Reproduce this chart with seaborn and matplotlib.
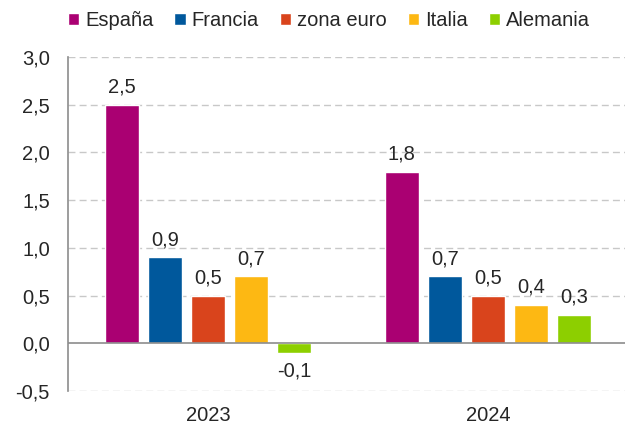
import matplotlib
matplotlib.use("Agg")
import matplotlib.pyplot as plt
import seaborn as sns
import pandas as pd

years = ["2023", "2024"]
countries = ["España", "Francia", "zona euro", "Italia", "Alemania"]
values_2023 = [2.5, 0.9, 0.5, 0.7, -0.1]
values_2024 = [1.8, 0.7, 0.5, 0.4, 0.3]
colors = ["#AA0072", "#00589C", "#D9441C", "#FDB813", "#8DCF00"]
yticks = [-0.5, 0.0, 0.5, 1.0, 1.5, 2.0, 2.5, 3.0]

rows = []
for c, v in zip(countries, values_2023):
    rows.append({"year": years[0], "country": c, "value": v})
for c, v in zip(countries, values_2024):
    rows.append({"year": years[1], "country": c, "value": v})
df = pd.DataFrame(rows)

sns.set_style("white")
plt.rcParams["font.family"] = ["Liberation Sans", "DejaVu Sans"]
text_color = "#262626"
fs = 14.5
lfs = 14.5

fig = plt.figure(figsize=(6.25, 4.26), dpi=100)
ax = fig.add_axes([68 / 625, 35 / 426, (628 - 68) / 625, 334 / 426])

sns.barplot(data=df, x="year", y="value", hue="country", hue_order=countries,
            palette=colors, width=0.77, gap=0.2, ax=ax, legend=True,
            saturation=1)

ax.set_ylim(-0.5, 3.0)
ax.set_xlim(-0.5, 1.5)
ax.set_yticks(yticks)
ax.set_yticklabels([f"{t:.1f}".replace(".", ",") for t in yticks],
                   fontsize=fs, color=text_color)
ax.tick_params(axis="x", labelsize=fs, colors=text_color, length=0, pad=11)
ax.tick_params(axis="y", length=0, pad=13)
ax.set_xlabel("")
ax.set_ylabel("")

for t in yticks:
    if t != 0:
        ax.axhline(t, color="#C8C8C8", lw=1, ls=(0, (5, 3)), zorder=0)
ax.axhline(0, color="#8C8C8C", lw=1.2, zorder=3)

for s in ["top", "right", "bottom"]:
    ax.spines[s].set_visible(False)
ax.spines["left"].set_color("#8C8C8C")
ax.spines["left"].set_linewidth(1.2)

for cont in ax.containers:
    labels = [f"{v:.1f}".replace(".", ",") for v in cont.datavalues]
    ax.bar_label(cont, labels=labels, padding=6, fontsize=fs, color=text_color)

leg = ax.get_legend()
handles, labs = ax.get_legend_handles_labels()
leg.remove()
fig.legend(handles, labs, loc="upper center", bbox_to_anchor=(329 / 625, 1.017),
           ncol=5, frameon=False, fontsize=lfs, handlelength=0.55,
           handleheight=0.55, handletextpad=0.3, columnspacing=1.05,
           labelcolor=text_color)

fig.savefig("out.png", dpi=100)
